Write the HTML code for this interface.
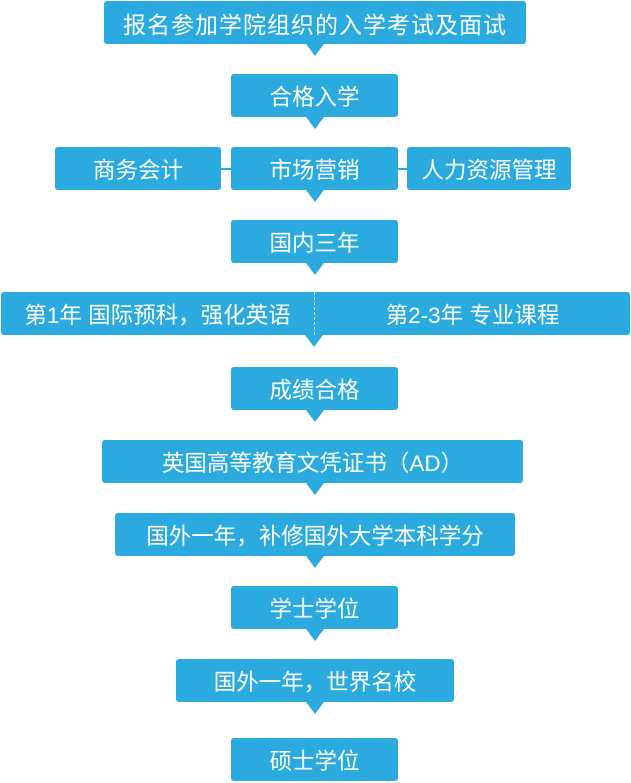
<!DOCTYPE html>
<html><head><meta charset="utf-8"><style>
html,body{margin:0;padding:0;background:#fff;}
body{width:631px;height:783px;position:relative;overflow:hidden;font-family:"Liberation Sans","Noto Sans CJK SC","WenQuanYi Zen Hei",sans-serif;}
.b{position:absolute;background:#2aaade;color:#fff;border-radius:3px;font-size:22.5px;display:flex;align-items:center;justify-content:center;white-space:nowrap;}
.t{position:absolute;width:0;height:0;border-left:9px solid transparent;border-right:9px solid transparent;border-top:12px solid #2aaade;}
.l{position:absolute;background:#2aaade;height:2px;top:168px;}
.h{position:absolute;top:292px;height:43px;color:#fff;font-size:22.5px;display:flex;align-items:center;justify-content:center;white-space:nowrap;}
</style></head><body>
<div class="b" style="left:104px;top:1px;width:422px;height:43px;letter-spacing:1px;font-size:23px;">报名参加学院组织的入学考试及面试</div>
<div class="t" style="left:306px;top:44px"></div>
<div class="b" style="left:231px;top:74px;width:167px;height:43px;">合格入学</div>
<div class="t" style="left:306px;top:117px"></div>
<div class="l" style="left:220px;width:12px"></div>
<div class="l" style="left:397px;width:11px"></div>
<div class="b" style="left:55px;top:147px;width:166px;height:43px;">商务会计</div>
<div class="b" style="left:231px;top:147px;width:167px;height:43px;">市场营销</div>
<div class="b" style="left:407px;top:147px;width:164px;height:43px;">人力资源管理</div>
<div class="t" style="left:306px;top:190px"></div>
<div class="b" style="left:231px;top:220px;width:167px;height:43px;">国内三年</div>
<div class="t" style="left:306px;top:263px"></div>
<div class="b" style="left:1px;top:292px;width:629px;height:43px;"></div>
<div class="h" style="left:1px;width:313px;">第1年 国际预科，强化英语</div>
<div class="h" style="left:315px;width:315px;">第2-3年 专业课程</div>
<div style="position:absolute;left:314px;top:292px;height:43px;border-left:1px dashed #d8eef8;"></div>
<div class="t" style="left:305px;top:335px"></div>
<div class="b" style="left:231px;top:367px;width:167px;height:43px;">成绩合格</div>
<div class="t" style="left:306px;top:410px"></div>
<div class="b" style="left:102px;top:440px;width:421px;height:43px;">英国高等教育文凭证书（AD）</div>
<div class="t" style="left:306px;top:483px"></div>
<div class="b" style="left:115px;top:513px;width:400px;height:43px;">国外一年，补修国外大学本科学分</div>
<div class="t" style="left:306px;top:556px"></div>
<div class="b" style="left:231px;top:586px;width:167px;height:43px;">学士学位</div>
<div class="t" style="left:306px;top:629px"></div>
<div class="b" style="left:176px;top:659px;width:278px;height:43px;">国外一年，世界名校</div>
<div class="t" style="left:306px;top:702px"></div>
<div class="b" style="left:231px;top:738px;width:167px;height:43px;">硕士学位</div>
</body></html>
